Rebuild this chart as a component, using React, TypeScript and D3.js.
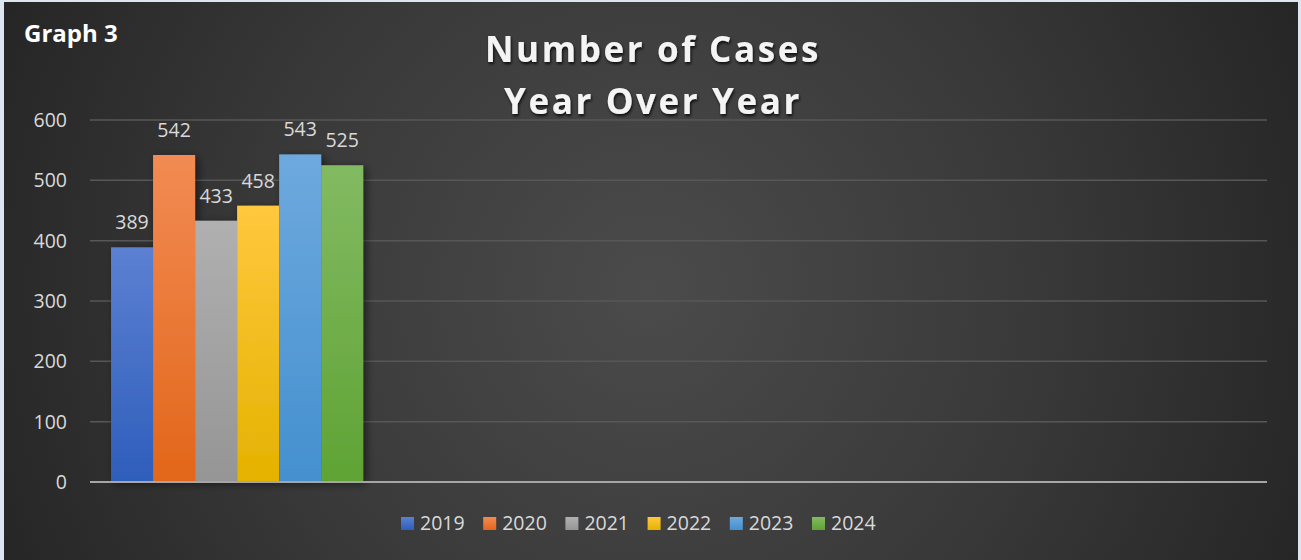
import React from "react";
import * as d3 from "d3";

const years = ["2019", "2020", "2021", "2022", "2023", "2024"];
const cases = [389, 542, 433, 458, 543, 525];
const slots = ["A", "B", "C", "D"]; // category slots on the axis; only the first holds data
const yTicks = [0, 100, 200, 300, 400, 500, 600];
const topColors = ["#5c80d2", "#f28b53", "#b0b0b0", "#ffc83e", "#6ea9de", "#82ba62"];
const bottomColors = ["#2e5ebb", "#e2661a", "#959595", "#e4b200", "#4490cf", "#5fa334"];

const W = 1301;
const H = 560;
const plot = { left: 90, right: 1267, top: 120, bottom: 482 };

export default function App() {
  const x0 = d3.scaleBand().domain(slots).range([plot.left, plot.right]).paddingInner(0.143).paddingOuter(0.0715);
  const x1 = d3.scaleBand().domain(years).range([0, x0.bandwidth()]);
  const y = d3.scaleLinear().domain([0, 600]).range([plot.bottom, plot.top]);
  const gx = x0("A") as number;
  const font = "'Open Sans', 'Noto Sans', sans-serif";

  return (
    <svg width={W} height={H} style={{ position: "absolute", left: 0, top: 0 }} fontFamily={font}>
      <defs>
        <radialGradient id="bg" cx="650" cy="290" r="700" gradientUnits="userSpaceOnUse">
          <stop offset="0" stopColor="#4b4b4b" />
          <stop offset="0.55" stopColor="#393939" />
          <stop offset="1" stopColor="#262626" />
        </radialGradient>
        {years.map((yr, i) => (
          <linearGradient key={yr} id={`g${i}`} x1="0" y1="0" x2="0" y2="1">
            <stop offset="0" stopColor={topColors[i]} />
            <stop offset="1" stopColor={bottomColors[i]} />
          </linearGradient>
        ))}
        <filter id="shadow" x="-20%" y="-20%" width="150%" height="140%">
          <feGaussianBlur in="SourceAlpha" stdDeviation="4" />
          <feOffset dx="3" dy="2" result="b" />
          <feComponentTransfer>
            <feFuncA type="linear" slope="0.5" />
          </feComponentTransfer>
          <feMerge>
            <feMergeNode />
            <feMergeNode in="SourceGraphic" />
          </feMerge>
        </filter>
        <filter id="tshadow" x="-10%" y="-30%" width="120%" height="160%">
          <feGaussianBlur in="SourceAlpha" stdDeviation="1.5" />
          <feOffset dx="1" dy="2" />
          <feComponentTransfer>
            <feFuncA type="linear" slope="0.8" />
          </feComponentTransfer>
          <feMerge>
            <feMergeNode />
            <feMergeNode in="SourceGraphic" />
          </feMerge>
        </filter>
      </defs>
      <rect x={0} y={0} width={W} height={H} fill="#dde5f1" />
      <rect x={4} y={2} width={1294} height={H - 2} fill="url(#bg)" />

      <text x={24} y={42} fill="#ffffff" fontWeight="bold" fontSize={24}>Graph 3</text>

      <g filter="url(#tshadow)" fill="#f4f4f4" fontWeight="bold" fontSize={35} textAnchor="middle" letterSpacing={2.6}>
        <text x={653} y={62}>Number of Cases</text>
        <text x={653} y={114}>Year Over Year</text>
      </g>

      {yTicks.map((t) => (
        <g key={t}>
          {t > 0 && <line x1={plot.left} x2={plot.right} y1={y(t)} y2={y(t)} stroke="#575757" strokeWidth={1.5} />}
          <text x={67} y={y(t)} dy="0.36em" textAnchor="end" fill="#d9d9d9" fontSize={19.5}>{t}</text>
        </g>
      ))}

      <g filter="url(#shadow)">
        {years.map((yr, i) => (
          <rect key={yr} x={gx + (x1(yr) as number)} y={y(cases[i])} width={x1.bandwidth()} height={y(0) - y(cases[i])} fill={`url(#g${i})`} />
        ))}
      </g>
      {years.map((yr, i) => (
        <text key={yr} x={gx + (x1(yr) as number) + x1.bandwidth() / 2} y={y(cases[i]) - 18} textAnchor="middle" fill="#d9d9d9" fontSize={19.5}>
          {cases[i]}
        </text>
      ))}

      <line x1={plot.left} x2={plot.right} y1={plot.bottom} y2={plot.bottom} stroke="#a6a6a6" strokeWidth={2} />

      {years.map((yr, i) => {
        const lx = 401 + i * 82.2;
        return (
          <g key={yr}>
            <rect x={lx} y={517} width={13} height={13} fill={`url(#g${i})`} />
            <text x={lx + 19} y={530} fill="#d9d9d9" fontSize={19.5}>{yr}</text>
          </g>
        );
      })}
    </svg>
  );
}
